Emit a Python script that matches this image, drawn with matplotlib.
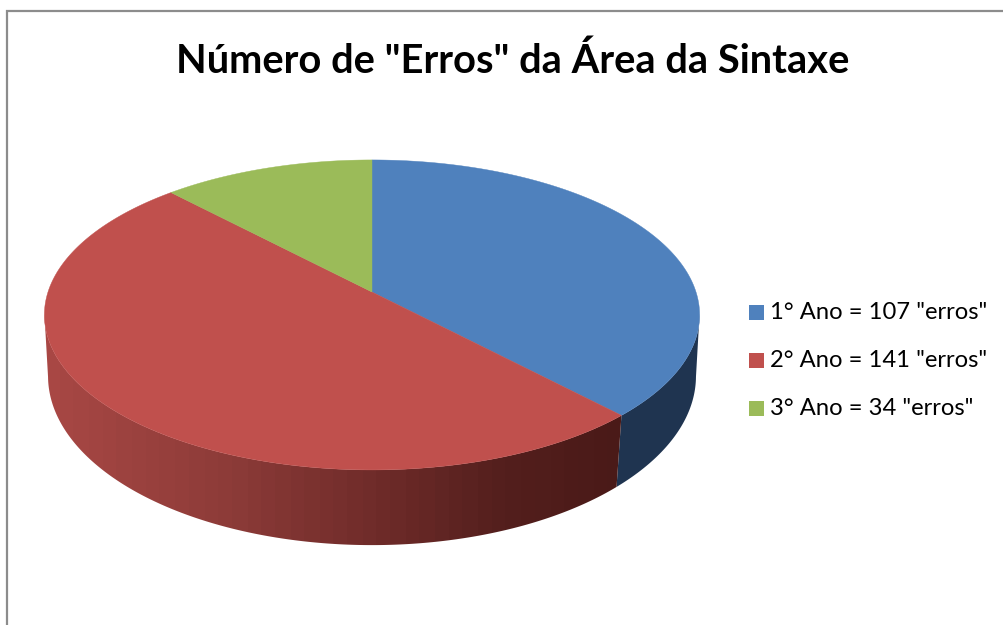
import numpy as np
import matplotlib
matplotlib.use("Agg")
import matplotlib.pyplot as plt
from matplotlib.colors import LinearSegmentedColormap
from matplotlib.patches import Polygon, Rectangle

title = 'Número de "Erros" da Área da Sintaxe'
categories = ['1° Ano = 107 "erros"', '2° Ano = 141 "erros"', '3° Ano = 34 "erros"']
values = [107, 141, 34]
colors = ['#4F81BD', '#C0504D', '#9BBB59']

W, H = 1004, 625
fig = plt.figure(figsize=(W / 100, H / 100), dpi=100, facecolor='white')
ax = fig.add_axes([0, 0, 1, 1])
ax.set_xlim(0, W)
ax.set_ylim(H, 0)
ax.axis('off')

# chart frame (only top and left edges are in the crop)
ax.plot([7, 7, W], [H, 11, 11], color='#8C8C8C', lw=1.6, solid_joinstyle='miter')

CX, CY = 372, 292
A, B, P = 324, 151.6, 0.148
A2, B2, CY2, P2 = 321, 166, 353.2, 0.135


def top(t):
    d = 1 + P * np.sin(t)
    return CX + A * np.cos(t) / d, CY - B * np.sin(t) / d


def bottom(t):
    d = 1 + P2 * np.sin(t)
    return CX + A2 * np.cos(t) / d, CY2 - B2 * np.sin(t) / d


fractions = np.cumsum([0] + values) / sum(values)
angles = np.pi / 2 - 2 * np.pi * fractions  # clockwise from 12 o'clock
t_side = np.arcsin(0.14)  # where the rim is widest


def side(t0, t1):
    t = np.linspace(t0, t1, 200)
    xt, yt = top(t)
    xb, yb = bottom(t)
    return np.column_stack([np.r_[xt, xb[::-1]], np.r_[yt, yb[::-1]]])


# blue side wall
ax.add_patch(Polygon(side(angles[1], -t_side), closed=True,
                     fc='#1F3450', ec='none', zorder=2))

# red side wall with banded horizontal gradient
red_side = Polygon(side(angles[1], -np.pi + t_side), closed=True, fc='none', ec='none')
ax.add_patch(red_side)
cmap = LinearSegmentedColormap.from_list(
    'redwall',
    [(0, '#A84744'), (0.3, '#8E3C39'), (0.55, '#722D2B'), (0.8, '#541F1D'), (1, '#4A1A18')],
    N=40)
im = ax.imshow(np.linspace(0, 1, 256)[None, :], extent=(44, 623, 560, 300),
               cmap=cmap, aspect='auto', zorder=2, interpolation='nearest')
im.set_clip_path(red_side)
ax.set_xlim(0, W)
ax.set_ylim(H, 0)

# top faces
for i, c in enumerate(colors):
    t = np.linspace(angles[i], angles[i + 1], 300)
    x, y = top(t)
    pts = np.column_stack([np.r_[CX, x], np.r_[CY, y]])
    ax.add_patch(Polygon(pts, closed=True, fc=c, ec=c, lw=0.3, zorder=3))

FONT = 'Lato'
ax.text(512.5, 61, title, ha='center', va='center', fontsize=28.7,
        fontweight='bold', family=FONT, color='black', zorder=5)

legend_y = [312.5, 360.5, 408.5]
for c, lab, y in zip(colors, categories, legend_y):
    ax.add_patch(Rectangle((749, y - 7.5), 15, 15, fc=c, ec='none', zorder=5))
    ax.text(770, y, lab, ha='left', va='center', fontsize=17.1, family=FONT,
            color='black', zorder=5)

fig.savefig('out.png', dpi=100, facecolor='white')
